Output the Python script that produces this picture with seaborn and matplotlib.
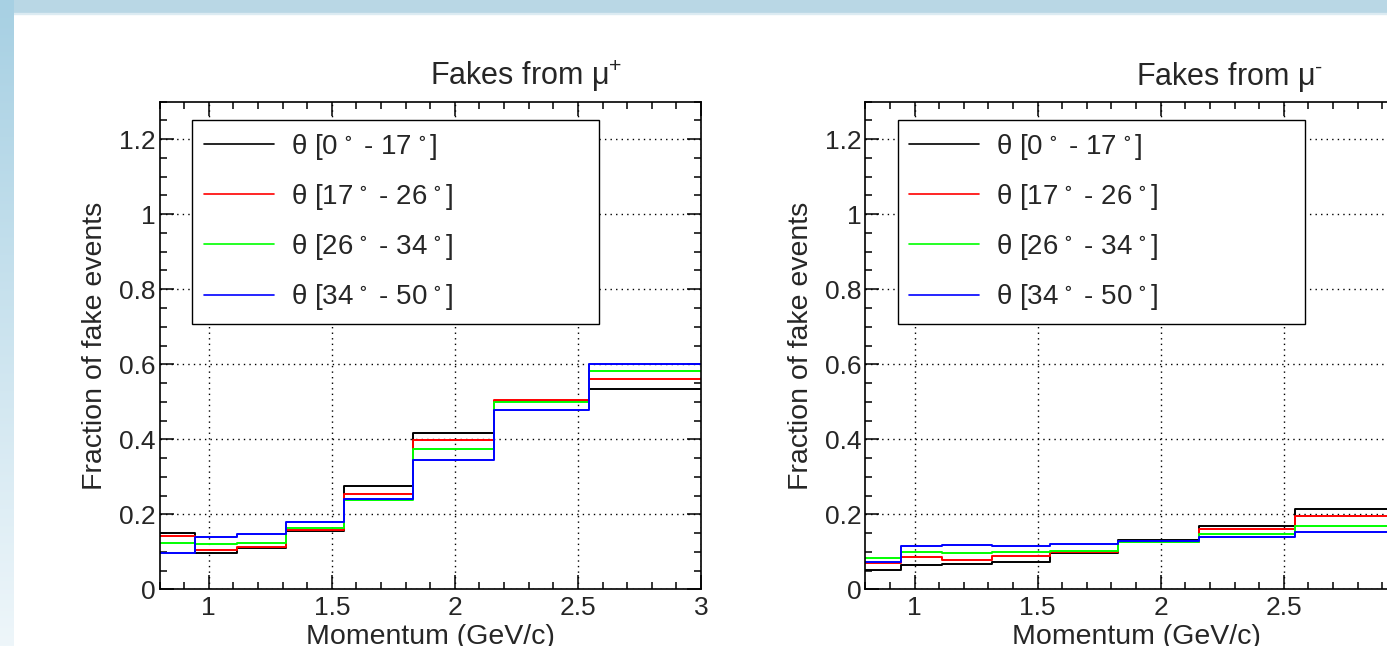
import numpy as np
import matplotlib
matplotlib.use("Agg")
import matplotlib.pyplot as plt
from matplotlib.lines import Line2D
from matplotlib.patches import Rectangle
from matplotlib.ticker import MultipleLocator, FormatStrFormatter
from matplotlib.colors import LinearSegmentedColormap
import seaborn as sns

# momentum bin edges (GeV/c), same binning for both panels
edges = [0.8, 0.944, 1.113, 1.314, 1.550, 1.828, 2.157, 2.544, 3.0]

theta_labels = [r"θ [0$^{\,\circ}$ - 17$^{\,\circ}$]",
                r"θ [17$^{\,\circ}$ - 26$^{\,\circ}$]",
                r"θ [26$^{\,\circ}$ - 34$^{\,\circ}$]",
                r"θ [34$^{\,\circ}$ - 50$^{\,\circ}$]"]
line_colors = ["black", "#ff0000", "#00ff00", "#0000ff"]

# fraction of fake events, fakes from mu+
mup_0_17 = [0.149, 0.096, 0.110, 0.155, 0.275, 0.416, 0.503, 0.534]
mup_17_26 = [0.142, 0.105, 0.113, 0.158, 0.255, 0.398, 0.505, 0.561]
mup_26_34 = [0.123, 0.120, 0.123, 0.164, 0.239, 0.375, 0.500, 0.583]
mup_34_50 = [0.096, 0.139, 0.147, 0.179, 0.241, 0.345, 0.478, 0.600]

# fraction of fake events, fakes from mu-
mum_0_17 = [0.051, 0.065, 0.067, 0.072, 0.096, 0.132, 0.170, 0.214]
mum_17_26 = [0.069, 0.085, 0.078, 0.089, 0.099, 0.127, 0.160, 0.195]
mum_26_34 = [0.083, 0.100, 0.096, 0.100, 0.102, 0.126, 0.147, 0.169]
mum_34_50 = [0.074, 0.115, 0.118, 0.116, 0.120, 0.129, 0.139, 0.152]

panels = [("Fakes from μ$^{+}$", [mup_0_17, mup_17_26, mup_26_34, mup_34_50]),
          ("Fakes from μ$^{\\text{-}}$", [mum_0_17, mum_17_26, mum_26_34, mum_34_50])]

sns.set_theme(style="ticks")
plt.rcParams['font.family'] = ['Liberation Sans', 'DejaVu Sans']
plt.rcParams['mathtext.fontset'] = 'custom'
plt.rcParams['mathtext.rm'] = 'Liberation Sans'
plt.rcParams['mathtext.default'] = 'regular'

W, H = 1387, 646
fig = plt.figure(figsize=(W / 100, H / 100), dpi=100)
fig.patch.set_facecolor("white")

# slide decoration: header band and left strip
fig.add_artist(Rectangle((0, 1 - 13 / H), 1, 13 / H, transform=fig.transFigure,
                         color="#b9d7e5", zorder=0))
fig.add_artist(Rectangle((0, 1 - 14 / H), 1, 1 / H, transform=fig.transFigure,
                         color="#dcebf2", zorder=0))
strip = fig.add_axes([0, 0, 14 / W, 1])
cmap = LinearSegmentedColormap.from_list("strip", ["#a7d0e3", "#eef6fa"])
strip.imshow(np.linspace(0, 1, 256).reshape(-1, 1), aspect="auto", cmap=cmap)
strip.axis("off")

centers = (np.array(edges[:-1]) + np.array(edges[1:])) / 2
ax_left = [159.5 / W, 865.3 / W]

for (title, series), x0 in zip(panels, ax_left):
    ax = fig.add_axes([x0, 1 - 589.3 / H, 541.5 / W, 487.6 / H])
    for vals, col in zip(series, line_colors):
        sns.histplot(x=centers, weights=vals, bins=edges, element="step", fill=False,
                     color=col, linewidth=1.4, ax=ax)
    ax.set_xlim(0.8, 3.0)
    ax.set_ylim(0, 1.3)
    ax.xaxis.set_major_locator(MultipleLocator(0.5))
    ax.xaxis.set_minor_locator(MultipleLocator(0.1))
    ax.yaxis.set_major_locator(MultipleLocator(0.2))
    ax.yaxis.set_minor_locator(MultipleLocator(0.05))
    ax.xaxis.set_major_formatter(FormatStrFormatter("%g"))
    ax.yaxis.set_major_formatter(FormatStrFormatter("%g"))
    ax.tick_params(which="both", direction="in", top=True, right=True,
                   color="black", width=1.1, labelsize=19)
    ax.tick_params(which="major", length=10)
    ax.tick_params(which="minor", length=5)
    ax.tick_params(axis="y", pad=3)
    ax.tick_params(axis="x", pad=5)
    ax.grid(True, which="major", color="black", linestyle=(0, (1, 3)), linewidth=1.0)
    for sp in ax.spines.values():
        sp.set_linewidth(1.2)
        sp.set_color("black")
    ax.set_ylabel("Fraction of fake events", fontsize=20.5)
    ax.set_xlabel("Momentum (GeV/c)", fontsize=20.5)
    ax.yaxis.set_label_coords(-0.095, 0.5)
    ax.xaxis.set_label_coords(0.5, -0.071)
    ax.text(0.5, 1.034, title, transform=ax.transAxes, ha="left", va="baseline",
            fontsize=22)

    handles = [Line2D([], [], color=c, linewidth=1.2) for c in line_colors]
    leg = ax.legend(handles, theta_labels, loc="upper left",
                    bbox_to_anchor=(0.06, 0.552, 0.752, 0.4105), mode="expand",
                    borderaxespad=0, frameon=True, fancybox=False, framealpha=1,
                    edgecolor="black", fontsize=20, handlelength=2.52,
                    handletextpad=0.61, labelspacing=0.73, borderpad=0.42)
    leg.get_frame().set_linewidth(1.0)

fig.savefig("out.png", dpi=100)
